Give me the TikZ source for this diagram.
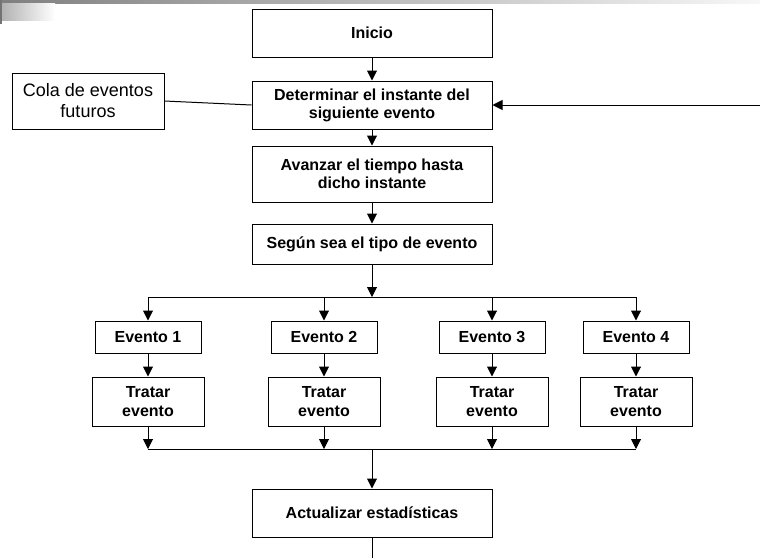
\documentclass[tikz,border=0pt]{standalone}
\usepackage{fontspec}
\setmainfont{Liberation Sans}
\usetikzlibrary{arrows.meta}
\begin{document}
\begin{tikzpicture}[x=0.75pt,y=-0.75pt,
  box/.style={draw=black,line width=0.75pt,inner sep=0pt,align=center,
    font=\fontsize{12}{13.6}\selectfont\bfseries},
  note/.style={draw=black,line width=0.75pt,inner sep=0pt,align=center,
    font=\fontsize{13.5}{15.7}\selectfont},
  wide/.style={minimum width=180pt},
  ev/.style={minimum width=79.5pt,minimum height=24pt},
  trt/.style={minimum width=84pt,minimum height=36.75pt},
  arr/.style={line width=0.75pt,-{Triangle[length=7.5pt,width=7.5pt]}},
  ln/.style={line width=0.75pt}]
\useasboundingbox (0,0) rectangle (760,558);
% decorative header
\shade[left color=black!50,right color=black!3] (0,0) rectangle (760,3);
\shade[left color=black!30,right color=white] (2,3) rectangle (55,20);
\fill[black!55] (0,0) rectangle (2,24);
% nodes
\node[box,wide,minimum height=36pt] (ini) at (372,33) {Inicio};
\node[box,wide,minimum height=36pt] (det) at (372,105) {Determinar el instante del\\siguiente evento};
\node[note,minimum width=114pt,minimum height=42pt] (cola) at (88,101) {Cola de eventos\\futuros};
\node[box,wide,minimum height=42pt] (ava) at (372,174) {Avanzar el tiempo hasta\\dicho instante};
\node[box,wide,minimum height=30pt] (seg) at (372,244) {Según sea el tipo de evento};
\foreach \i/\x in {1/148,2/324,3/492,4/636}{
  \node[box,ev] (ev\i) at (\x,337) {Evento \i};
  \node[box,trt] (tr\i) at (\x,401.5) {Tratar\\evento};
}
\node[box,wide,minimum height=36pt] (act) at (372,513) {Actualizar estadísticas};
% coordinates
\coordinate (b1) at (372,297);
\coordinate (b2) at (372,449);
\coordinate (rin) at (760,105);
\coordinate (bot) at (372,558);
% connectors
\draw[arr] (ini) -- (det);
\draw[arr] (det) -- (ava);
\draw[arr] (ava) -- (seg);
\draw[arr] (seg.south) -- (b1);
\draw[ln] (cola.east) -- (det.west);
\draw[arr] (rin) -- (det.east);
\draw[ln] (ev1.north |- b1) -- (ev4.north |- b1);
\draw[ln] (tr1.south |- b2) -- (tr4.south |- b2);
\foreach \i in {1,2,3,4}{
  \draw[arr] (ev\i.north |- b1) -- (ev\i.north);
  \draw[arr] (ev\i) -- (tr\i);
  \draw[arr] (tr\i.south) -- (tr\i.south |- b2);
}
\draw[arr] (b2) -- (act);
\draw[ln] (act.south) -- (bot);
\end{tikzpicture}
\end{document}
